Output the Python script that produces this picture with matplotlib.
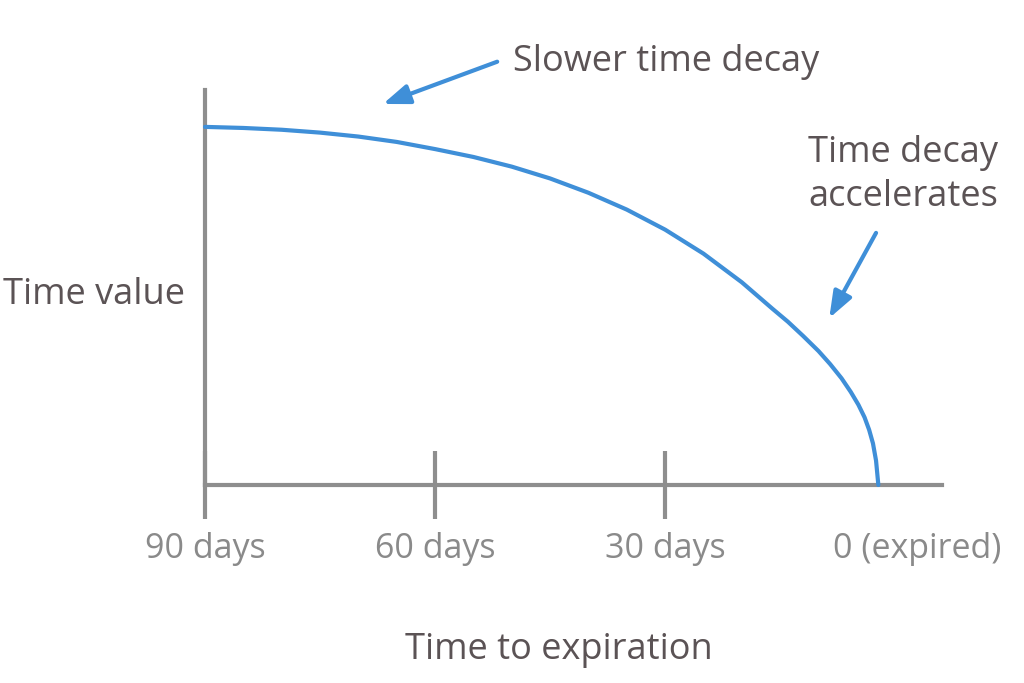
import matplotlib
matplotlib.use("Agg")
import matplotlib.pyplot as plt

plt.rcParams['font.family'] = ['Open Sans', 'DejaVu Sans']

# days to expiration and relative time value
days = [90, 85, 80, 75, 70, 65, 60, 55, 50, 45, 40, 35, 30, 25, 20, 16, 14, 12,
        10, 8.5, 7, 5.8, 4.8, 4, 3.4, 2.9, 2.5, 2.2]
time_value = [100, 99.7, 99.2, 98.4, 97.3, 95.8, 93.8, 91.6, 88.9, 85.6, 81.6,
              76.9, 71.3, 64.6, 56.6, 49.2, 45.6, 41.6, 37.4, 33.8, 29.8, 26.0,
              22.4, 18.9, 15.4, 11.6, 6.8, 0]

tick_pos = [90, 60, 30]
tick_labels = ["90 days", "60 days", "30 days"]
expired_pos = -2.8
expired_label = "0 (expired)"

blue = '#3f8fd8'
axis_grey = '#8e8e8e'
label_grey = '#8a8a8a'
text_dark = '#5b5355'

fig = plt.figure(figsize=(10.24, 6.83), dpi=100)
ax = fig.add_axes([205 / 1024, 1 - 485 / 683, 737 / 1024, 395 / 683])
ax.set_xlim(90, -6.1)
ax.set_ylim(0, 110.3)

ax.plot(days, time_value, color=blue, lw=3, solid_capstyle='round',
        solid_joinstyle='round', clip_on=False, zorder=3)

for side in ['top', 'right']:
    ax.spines[side].set_visible(False)
for side in ['left', 'bottom']:
    ax.spines[side].set_color(axis_grey)
    ax.spines[side].set_linewidth(3)

ax.set_yticks([])
ax.set_xticks(tick_pos)
ax.set_xticklabels(tick_labels)
ax.set_xticks([expired_pos], minor=True)
ax.set_xticklabels([expired_label], minor=True)
ax.tick_params(axis='x', which='major', direction='inout', length=49, width=3,
               color=axis_grey, labelcolor=label_grey, labelsize=24.5, pad=9)
ax.tick_params(axis='x', which='minor', length=0, labelcolor=label_grey,
               labelsize=24.5, pad=33.5)

arrow = dict(arrowstyle='-|>,head_length=0.8,head_width=0.3',
             color=blue, lw=3, mutation_scale=20, shrinkA=0, shrinkB=0)
ax.annotate('', xy=(66.8, 106.4), xytext=(51.9, 118.2), annotation_clip=False,
            arrowprops=arrow)
ax.annotate('', xy=(8.6, 46.6), xytext=(2.5, 70.4), annotation_clip=False,
            arrowprops=arrow)

fig.text(513 / 1024, 1 - 62 / 683, "Slower time decay", fontsize=26,
         color=text_dark, ha='left', va='center')
fig.text(903 / 1024, 1 - 175 / 683, "Time decay\naccelerates", fontsize=26,
         color=text_dark, ha='center', va='center', linespacing=1.3)
fig.text(3 / 1024, 1 - 295 / 683, "Time value", fontsize=26,
         color=text_dark, ha='left', va='center')
fig.text(559 / 1024, 1 - 650 / 683, "Time to expiration", fontsize=26,
         color=text_dark, ha='center', va='center')

fig.savefig('out.png', dpi=100)
